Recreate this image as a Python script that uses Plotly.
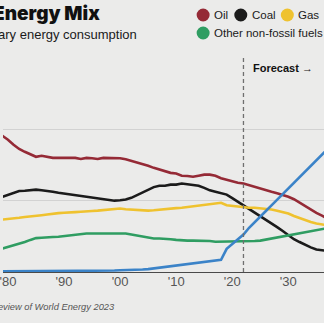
import plotly.graph_objects as go

# Share of primary energy consumption (%), yearly, with projections after 2022
years = list(range(1979, 2038))

oil = [38.2, 37.1, 35.7, 34.5, 33.7, 32.9, 32.3, 32.6, 32.3, 32.0,
       32.0, 32.0, 31.9, 32.0, 31.7, 32.0, 31.9, 31.7, 32.0, 32.0,
       32.0, 31.9, 31.6, 31.2, 30.8, 30.3, 29.8, 29.2, 28.7, 28.1,
       27.8, 27.6, 27.0, 26.9, 26.7, 27.0, 27.3, 27.3, 27.0, 26.3,
       25.9, 25.3, 25.0, 24.8, 24.3, 23.9, 23.5, 22.9, 22.5, 22.1,
       21.7, 21.1, 20.4, 19.4, 18.6, 17.6, 16.6, 15.8, 15.0]

coal = [21.1, 21.7, 22.2, 22.7, 22.8, 22.9, 23.1, 22.9, 22.8, 22.5,
        22.2, 22.0, 21.7, 21.4, 21.3, 21.1, 20.8, 20.7, 20.6, 20.3,
        20.0, 20.1, 20.3, 20.8, 21.5, 22.4, 23.1, 23.8, 24.2, 24.2,
        24.5, 24.5, 24.8, 24.6, 24.5, 24.2, 23.6, 22.9, 22.5, 22.2,
        21.7, 20.7, 19.7, 18.7, 17.8, 16.8, 15.7, 14.7, 13.7, 12.6,
        11.5, 10.3, 9.2, 8.4, 7.6, 6.9, 6.3, 6.0, 5.9]

gas = [14.7, 14.8, 15.0, 15.2, 15.4, 15.5, 15.8, 15.9, 16.1, 16.4,
       16.5, 16.6, 16.6, 16.8, 16.9, 16.9, 17.1, 17.2, 17.3, 17.5,
       17.6, 17.8, 17.6, 17.5, 17.3, 17.2, 17.2, 17.3, 17.5, 17.6,
       17.8, 17.9, 18.0, 18.2, 18.3, 18.6, 18.9, 19.0, 19.2, 19.4,
       18.7, 18.5, 18.3, 18.2, 18.0, 18.0, 17.9, 17.8, 17.5, 17.2,
       16.8, 16.4, 15.7, 15.1, 14.5, 14.0, 13.6, 13.3, 13.1]

other_non_fossil = [6.6, 7.0, 7.6, 8.0, 8.4, 9.0, 9.5, 9.6, 9.6, 9.8,
                    9.9, 10.1, 10.2, 10.5, 10.6, 10.8, 10.8, 10.8, 10.8, 10.8,
                    10.9, 10.9, 10.8, 10.5, 10.2, 9.9, 9.6, 9.4, 9.4, 9.4,
                    9.2, 9.0, 8.8, 8.8, 8.8, 8.8, 8.8, 8.7, 8.5, 8.5,
                    8.5, 8.7, 8.5, 8.5, 8.5, 8.7, 8.8, 9.1, 9.4, 9.6,
                    9.9, 10.2, 10.5, 10.8, 11.0, 11.3, 11.6, 12.0, 12.3]

renewables = [0.2, 0.2, 0.2, 0.2, 0.2, 0.2, 0.2, 0.2, 0.2, 0.2,
              0.2, 0.2, 0.2, 0.2, 0.2, 0.3, 0.3, 0.3, 0.3, 0.4,
              0.4, 0.5, 0.5, 0.6, 0.6, 0.7, 0.8, 1.0, 1.2, 1.4,
              1.5, 1.7, 2.0, 2.1, 2.3, 2.5, 2.7, 2.9, 3.2, 3.4,
              6.5, 7.9, 9.1, 10.5, 12.4, 13.9, 15.5, 17.1, 18.7, 20.3,
              21.9, 23.4, 25.1, 26.6, 28.2, 29.8, 31.4, 32.9, 34.5]

tick_years = [1980, 1990, 2000, 2010, 2020, 2030]
tick_text = ["'80", "'90", "'00", "'10", "'20", "'30"]
forecast_start = 2022

series = [
    ("Oil", oil, "#952a36"),
    ("Coal", coal, "#1b1b1b"),
    ("Gas", gas, "#efc22f"),
    ("Other non-fossil fuels", other_non_fossil, "#2f9d62"),
    ("Renewables", renewables, "#3b83c8"),
]

W, H = 324, 323
M_T, M_B = 58, 51
plot_h = H - M_T - M_B
BG = "#ebebea"
TEXT_FONT = "Liberation Sans, Arial, sans-serif"


def py(px):
    """Pixel row -> paper y."""
    return (H - M_B - px) / plot_h


def px_x(px):
    """Pixel column -> paper x."""
    return px / W


fig = go.Figure()
for name, vals, color in series:
    fig.add_trace(go.Scatter(
        x=years, y=vals, name=name, mode="lines",
        line=dict(color=color, width=2.6),
        showlegend=False, hoverinfo="skip",
    ))

shapes = [
    dict(type="line", xref="x", yref="paper", x0=forecast_start, x1=forecast_start,
         y0=0, y1=1, line=dict(color="#6f6f6f", width=1.3, dash="4px,3px")),
]

# Legend built from dots and labels in the header
legend_items = [
    ("Oil", "#952a36", 202, 15),
    ("Coal", "#1b1b1b", 240, 15),
    ("Gas", "#efc22f", 287, 15),
    ("Other non-fossil fuels", "#2f9d62", 202, 33),
]
annotations = []
for label, color, cx, cy in legend_items:
    shapes.append(dict(
        type="circle", xref="paper", yref="paper",
        xsizemode="pixel", ysizemode="pixel",
        xanchor=px_x(cx), yanchor=py(cy),
        x0=-6.5, x1=6.5, y0=-6.5, y1=6.5,
        fillcolor=color, line=dict(width=0),
    ))
    annotations.append(dict(
        text=label, xref="paper", yref="paper",
        x=px_x(cx + 9), y=py(cy), xanchor="left", yanchor="middle",
        showarrow=False, font=dict(family=TEXT_FONT, size=11.5, color="#1a1a1a"),
    ))

annotations += [
    dict(text="Global Energy Mix", xref="paper", yref="paper",
         x=px_x(100), y=py(14), xanchor="right", yanchor="middle", showarrow=False,
         font=dict(family="Inter, Roboto, Arial Black, sans-serif", size=19,
                   weight=900, color="#111111")),
    dict(text="Share of primary energy consumption", xref="paper", yref="paper",
         x=px_x(137), y=py(34), xanchor="right", yanchor="middle", showarrow=False,
         font=dict(family=TEXT_FONT, size=13, color="#1a1a1a")),
    dict(text="<b>Forecast →</b>", xref="paper", yref="paper",
         x=px_x(250), y=py(68), xanchor="left", yanchor="middle", showarrow=False,
         font=dict(family=TEXT_FONT, size=11, color="#111111")),
    dict(text="<i>Source: Energy Institute Statistical Review of World Energy 2023</i>",
         xref="paper", yref="paper",
         x=px_x(115), y=py(307), xanchor="right", yanchor="middle", showarrow=False,
         font=dict(family=TEXT_FONT, size=9.3, color="#555555")),
]

x_left = 1980 - 5 / 5.66
x_right = 1980 + (W - 5) / 5.66

fig.update_layout(
    width=W, height=H,
    margin=dict(l=0, r=0, t=M_T, b=M_B, pad=0),
    paper_bgcolor=BG, plot_bgcolor=BG,
    shapes=shapes, annotations=annotations,
    xaxis=dict(
        range=[x_left, x_right], tickvals=tick_years, ticktext=tick_text,
        showgrid=False, zeroline=False, showline=False, ticks="",
        ticklabeloverflow="allow",
        tickfont=dict(family=TEXT_FONT, size=13, color="#555555"),
        fixedrange=True,
    ),
    yaxis=dict(
        range=[0, 60], tickvals=[0, 20, 40, 60], showticklabels=False,
        showgrid=True, gridcolor="#d2d2d2", gridwidth=1,
        zeroline=True, zerolinecolor="#4a4a4a", zerolinewidth=1.2,
        fixedrange=True,
    ),
    showlegend=False,
)

fig.write_html("out.html", config={"displayModeBar": False})
